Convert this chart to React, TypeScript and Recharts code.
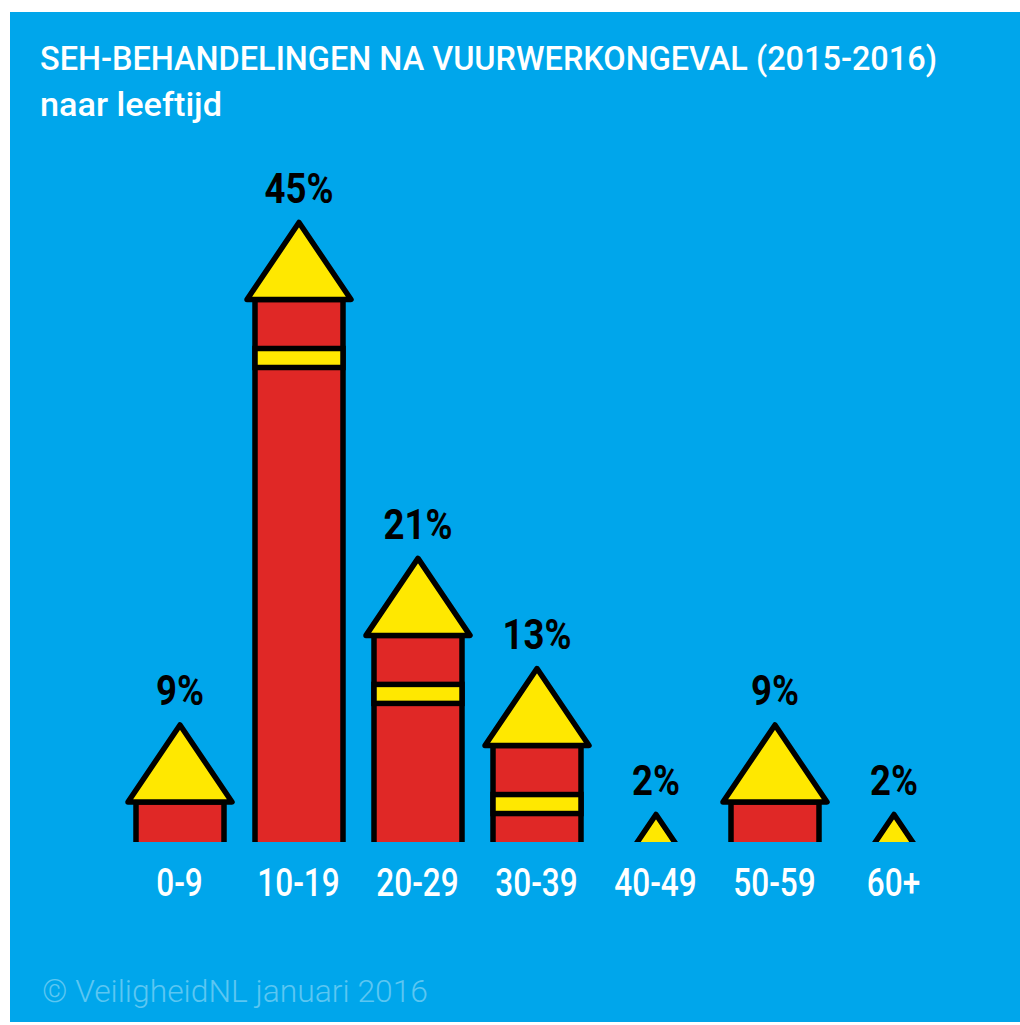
import React from 'react';
import { BarChart, Bar, XAxis, YAxis, LabelList } from 'recharts';

// leeftijdsgroepen en aandeel SEH-behandelingen (%)
const ageGroups = ['0-9', '10-19', '20-29', '30-39', '40-49', '50-59', '60+'];
const shares = [8.5, 45, 20.6, 12.6, 2, 8.5, 2];

const C = {
  blue: '#00A6EB',
  red: '#E02826',
  yellow: '#FFE800',
  ink: '#000',
  white: '#fff',
  faint: '#5CC6F2',
};

const FONT = 'Roboto, "DejaVu Sans", sans-serif';

const data = ageGroups.map((g, i) => ({ group: g, share: shares[i] }));

const ROOF_H = 77;
const STROKE = 5.5;

// raket: rode romp, gele streep, gele punt; afgesneden op de basislijn
function Rocket(props: any) {
  const { x, y, width, height, index } = props;
  if (height == null || width == null) return null;
  const cx = x + width / 2;
  const base = y + height;
  const bodyTop = y + ROOF_H;
  const half = width / 2 + 8;
  const clipId = `rocket-clip-${index}`;
  return (
    <g>
      <defs>
        <clipPath id={clipId}>
          <rect x={x - 40} y={y - 40} width={width + 80} height={base - y + 40} />
        </clipPath>
      </defs>
      <g clipPath={`url(#${clipId})`}>
        <rect
          x={x} y={bodyTop} width={width} height={Math.max(base - bodyTop + 20, 0)}
          fill={C.red} stroke={C.ink} strokeWidth={STROKE}
        />
        <rect
          x={x} y={bodyTop + 49} width={width} height={19}
          fill={C.yellow} stroke={C.ink} strokeWidth={STROKE}
        />
        <polygon
          points={`${cx},${y} ${cx + half},${bodyTop} ${cx - half},${bodyTop}`}
          fill={C.yellow} stroke={C.ink} strokeWidth={STROKE} strokeLinejoin="round"
        />
      </g>
    </g>
  );
}

function ShareLabel(props: any) {
  const { x, y, width, value } = props;
  return (
    <text
      transform={`translate(${x + width / 2},${y - 34}) scale(0.87,1)`}
      textAnchor="middle" dominantBaseline="central"
      fill={C.ink} fontFamily={FONT} fontWeight={700} fontSize={42}
    >
      {`${Math.round(value)}%`}
    </text>
  );
}

function AgeTick(props: any) {
  const { x, y, payload } = props;
  return (
    <text
      transform={`translate(${x},${y + 41.5}) scale(0.83,1)`}
      textAnchor="middle" dominantBaseline="central"
      fill={C.white} fontFamily={FONT} fontWeight={500} fontSize={38}
    >
      {payload.value}
    </text>
  );
}

export default function App() {
  return (
    <div style={{ position: 'absolute', left: 0, top: 0, width: 1020, height: 1025, background: '#fff' }}>
      <div style={{
        position: 'absolute', left: 10, top: 12, width: 1010, height: 1010,
        background: C.blue, overflow: 'hidden',
      }}>
        <svg width={1010} height={1010} style={{ position: 'absolute', left: 0, top: 0 }}>
          <text
            x={30} y={58} fill={C.white} fontFamily={FONT} fontWeight={500} fontSize={33}
            textLength={897} lengthAdjust="spacingAndGlyphs"
          >
            SEH-BEHANDELINGEN NA VUURWERKONGEVAL (2015-2016)
          </text>
          <text
            x={30} y={104} fill={C.white} fontFamily={FONT} fontWeight={500} fontSize={33}
            textLength={182} lengthAdjust="spacingAndGlyphs"
          >
            naar leeftijd
          </text>
          <text
            x={32} y={990} fill={C.faint} fontFamily={FONT} fontWeight={300} fontSize={31}
            textLength={386} lengthAdjust="spacingAndGlyphs"
          >
            © VeiligheidNL januari 2016
          </text>
        </svg>

        <div style={{ position: 'absolute', left: 0, top: 0 }}>
          <BarChart
            width={1010} height={920} data={data}
            margin={{ top: 210.5, right: 67, bottom: 0, left: 110 }}
            barSize={88}
          >
            <YAxis hide domain={[0, 45]} />
            <XAxis
              dataKey="group" axisLine={false} tickLine={false}
              tickSize={0} tickMargin={0} height={90} interval={0}
              tick={<AgeTick />}
            />
            <Bar dataKey="share" shape={<Rocket />} isAnimationActive={false}>
              <LabelList dataKey="share" content={<ShareLabel />} />
            </Bar>
          </BarChart>
        </div>
      </div>
    </div>
  );
}
